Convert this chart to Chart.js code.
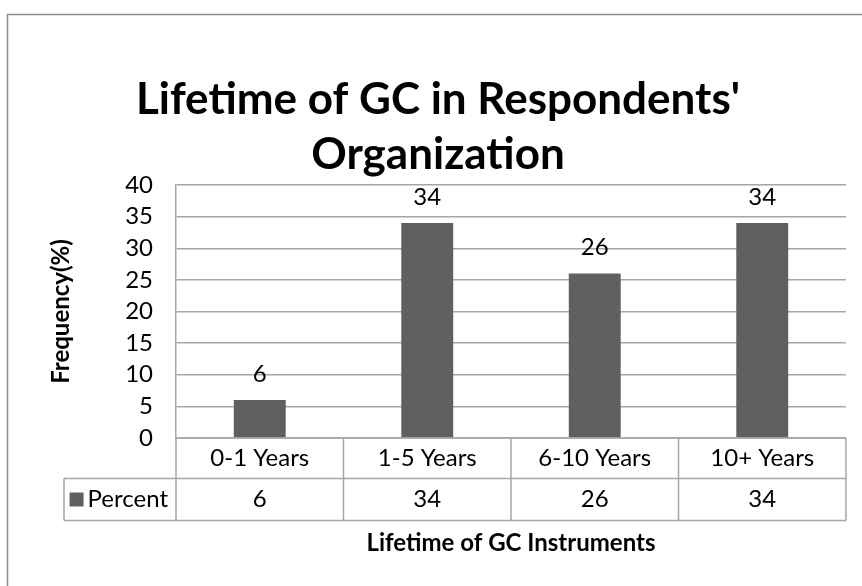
<!DOCTYPE html>
<html>
<head>
<meta charset="utf-8">
<script src="https://cdn.jsdelivr.net/npm/chart.js@4.4.0/dist/chart.umd.min.js"></script>
<style>
  html, body { margin: 0; padding: 0; background: #fff; }
  #wrap { width: 862px; height: 586px; }
</style>
</head>
<body>
<div id="wrap"><canvas id="myChart" width="862" height="586"></canvas></div>
<script>
// data
const categories = ['0-1 Years', '1-5 Years', '6-10 Years', '10+ Years'];
const percent = [6, 34, 26, 34];
const seriesName = 'Percent';
const titleLines = ["Lifetime of GC in Respondents'", 'Organization'];
const yMax = 40;
const yStep = 5;

const FONT = 'Lato, "Open Sans", sans-serif';
const GRID = '#a6a6a6';
const BAR = '#606060';

// title, data table, value labels and outer frame, drawn off the chart's own scales
const tablePlugin = {
  id: 'tablePlugin',
  afterDraw(chart) {
    const ctx = chart.ctx;
    const area = chart.chartArea;
    const x = chart.scales.x;
    const y = chart.scales.y;
    const n = categories.length;
    const colW = (area.right - area.left) / n;
    const row1 = area.bottom + 40.5;
    const row2 = row1 + 42;
    const legendLeft = 64;

    ctx.save();

    // outer frame
    ctx.strokeStyle = '#8c8c8c';
    ctx.lineWidth = 1.5;
    ctx.strokeRect(7.5, 14.5, 900, 700);

    // chart title
    ctx.fillStyle = '#000';
    ctx.font = 'bold 44px ' + FONT;
    ctx.textAlign = 'center';
    ctx.textBaseline = 'middle';
    titleLines.forEach((t, i) => ctx.fillText(t, 438, 100 + i * 55));

    // value labels over bars
    ctx.font = '24px ' + FONT;
    percent.forEach((v, i) => {
      ctx.fillText(String(v), x.getPixelForValue(i), y.getPixelForValue(v) - 26);
    });

    // table lines
    ctx.strokeStyle = GRID;
    ctx.lineWidth = 1.5;
    ctx.beginPath();
    ctx.moveTo(area.left, area.bottom); ctx.lineTo(area.right, area.bottom);
    ctx.moveTo(legendLeft, row1); ctx.lineTo(area.right, row1);
    ctx.moveTo(legendLeft, row2); ctx.lineTo(area.right, row2);
    ctx.moveTo(legendLeft, row1); ctx.lineTo(legendLeft, row2);
    for (let i = 0; i <= n; i++) {
      const cx = area.left + i * colW;
      ctx.moveTo(cx, area.bottom); ctx.lineTo(cx, row2);
    }
    ctx.stroke();

    // header row and value row
    ctx.fillStyle = '#000';
    categories.forEach((c, i) => {
      const cx = x.getPixelForValue(i);
      ctx.fillText(c, cx, (area.bottom + row1) / 2);
      ctx.fillText(String(percent[i]), cx, (row1 + row2) / 2);
    });

    // legend key
    ctx.textAlign = 'right';
    ctx.fillText(seriesName, area.left - 8, (row1 + row2) / 2);
    const tw = ctx.measureText(seriesName).width;
    ctx.fillStyle = BAR;
    ctx.fillRect(area.left - 8 - tw - 18, (row1 + row2) / 2 - 7, 14, 14);

    // x axis title
    ctx.fillStyle = '#000';
    ctx.font = 'bold 24px ' + FONT;
    ctx.textAlign = 'center';
    ctx.fillText('Lifetime of GC Instruments', (area.left + area.right) / 2, row2 + 23);

    ctx.restore();
  }
};

new Chart(document.getElementById('myChart').getContext('2d'), {
  type: 'bar',
  data: {
    labels: categories,
    datasets: [{
      label: seriesName,
      data: percent,
      backgroundColor: BAR,
      barPercentage: 0.31,
      categoryPercentage: 1.0
    }]
  },
  options: {
    responsive: false,
    animation: false,
    layout: { padding: { left: 0, right: 16, top: 185, bottom: 0 } },
    plugins: {
      legend: { display: false },
      tooltip: { enabled: false },
      title: { display: false }
    },
    scales: {
      x: {
        ticks: { display: false },
        grid: { display: false },
        border: { display: false },
        afterFit(scale) { scale.height = 148; }
      },
      y: {
        min: 0,
        max: yMax,
        ticks: {
          stepSize: yStep,
          autoSkip: false,
          color: '#000',
          padding: 23,
          font: { family: FONT, size: 24 }
        },
        grid: { color: GRID, lineWidth: 1.5, drawTicks: false },
        border: { display: true, color: GRID, width: 1.5 },
        title: {
          display: true,
          text: 'Frequency(%)',
          color: '#000',
          font: { family: FONT, size: 24, weight: 'bold', lineHeight: 1.2 },
          padding: { top: 47, bottom: 0 }
        },
        afterFit(scale) { scale.width = 176; }
      }
    }
  },
  plugins: [tablePlugin]
});
</script>
</body>
</html>
